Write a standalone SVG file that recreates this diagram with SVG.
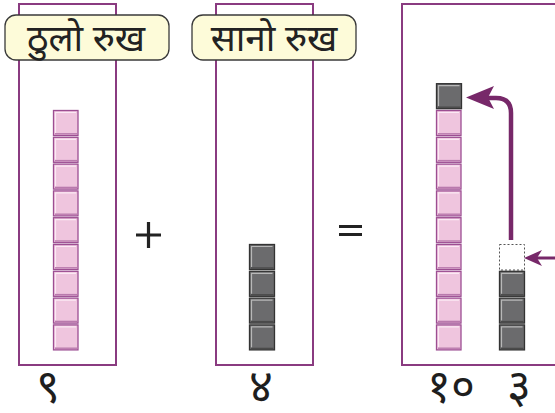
<svg xmlns="http://www.w3.org/2000/svg" xmlns:xlink="http://www.w3.org/1999/xlink" width="555" height="413" viewBox="0 0 555 413">
<style>
.box{fill:#fff;stroke:#8a3b80;stroke-width:2}
.lbl{fill:#fdfbd9;stroke:#3a3a3a;stroke-width:1.3}
.txt{font-family:"Noto Sans Devanagari","Noto Sans",sans-serif;fill:#222;font-size:37px;text-anchor:middle}
.num{font-family:"Noto Sans Devanagari","Noto Sans",sans-serif;fill:#1e1e1e;font-size:46px;text-anchor:middle}
.op{stroke:#222;stroke-width:3.2;fill:none}
.arr{stroke:#772869;fill:none}
.head{fill:#772869}
</style>
<defs>
<g id="pink">
<rect x="0.5" y="0.5" width="24.5" height="25" fill="#efc5de" stroke="#9c4e92" stroke-width="1.3"/>
<polyline points="2.5,23 2.5,2.5 23,2.5" fill="none" stroke="#fbe9f4" stroke-width="1.2"/>
<line x1="2" y1="23.8" x2="24" y2="23.8" stroke="#b97aad" stroke-width="1.4"/>
</g>
<g id="gray">
<rect x="0.5" y="0.5" width="25" height="25" fill="#6b6b6d" stroke="#333" stroke-width="1.3"/>
<polyline points="2.5,23 2.5,2.5 23.5,2.5" fill="none" stroke="#b8b8b8" stroke-width="1.2"/>
<line x1="2" y1="24" x2="24.5" y2="24" stroke="#4a4a4a" stroke-width="1.4"/>
</g>
</defs>

<g id="node-big-tree">
<rect class="box" x="19" y="4" width="97" height="361"/>
<rect class="lbl" x="5" y="15" width="164" height="45" rx="11"/>
<text class="txt" x="86" y="51">ठुलो रुख</text>
<g id="pink-col-1">
<use xlink:href="#pink" x="53" y="110"/>
<use xlink:href="#pink" x="53" y="136.8"/>
<use xlink:href="#pink" x="53" y="163.6"/>
<use xlink:href="#pink" x="53" y="190.4"/>
<use xlink:href="#pink" x="53" y="217.2"/>
<use xlink:href="#pink" x="53" y="244"/>
<use xlink:href="#pink" x="53" y="270.8"/>
<use xlink:href="#pink" x="53" y="297.6"/>
<use xlink:href="#pink" x="53" y="324.4"/>
</g>
<text class="num" x="48" y="402">९</text>
</g>

<g id="node-plus"><path class="op" d="M136,235 H161 M148.5,222 V248"/></g>

<g id="node-small-tree">
<rect class="box" x="216" y="4" width="97" height="361"/>
<rect class="lbl" x="192" y="15" width="164" height="45" rx="11"/>
<text class="txt" x="274" y="51">सानो रुख</text>
<g id="gray-col-2">
<use xlink:href="#gray" x="249" y="244"/>
<use xlink:href="#gray" x="249" y="270.8"/>
<use xlink:href="#gray" x="249" y="297.6"/>
<use xlink:href="#gray" x="249" y="324.4"/>
</g>
<text class="num" x="261" y="402">४</text>
</g>

<g id="node-equals"><path class="op" d="M339,226.5 H362 M339,234.5 H362"/></g>

<g id="node-result">
<rect class="box" x="402" y="4" width="160" height="361"/>
<g id="col-ten">
<use xlink:href="#gray" x="436" y="83.2"/>
<use xlink:href="#pink" x="436" y="110"/>
<use xlink:href="#pink" x="436" y="136.8"/>
<use xlink:href="#pink" x="436" y="163.6"/>
<use xlink:href="#pink" x="436" y="190.4"/>
<use xlink:href="#pink" x="436" y="217.2"/>
<use xlink:href="#pink" x="436" y="244"/>
<use xlink:href="#pink" x="436" y="270.8"/>
<use xlink:href="#pink" x="436" y="297.6"/>
<use xlink:href="#pink" x="436" y="324.4"/>
</g>
<g id="col-ones">
<rect x="499.5" y="244.5" width="25" height="25.5" fill="#fff" stroke="#555" stroke-width="1" stroke-dasharray="2,2"/>
<use xlink:href="#gray" x="499" y="270.8"/>
<use xlink:href="#gray" x="499" y="297.6"/>
<use xlink:href="#gray" x="499" y="324.4"/>
</g>
<text class="num" x="451" y="402">१०</text>
<text class="num" x="519" y="402">३</text>
</g>

<g id="connectors">
<path class="arr" stroke-width="4.5" d="M511,240 V113 Q511,98 496,98 H486"/>
<polygon class="head" points="466,97.5 494,86 488,97.5 494,109"/>
<path class="arr" stroke-width="3" d="M556,258 H536"/>
<polygon class="head" points="524,258 542,250 537,258 542,266"/>
</g>
</svg>
